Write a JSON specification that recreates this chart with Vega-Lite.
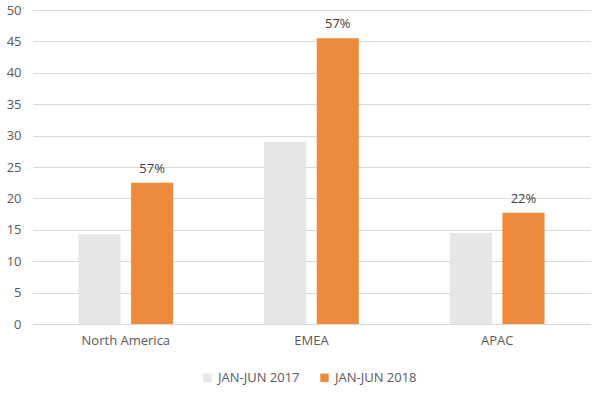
{
  "$schema": "https://vega.github.io/schema/vega-lite/v6.json",
  "width": 557,
  "height": 314,
  "autosize": {"type": "none"},
  "padding": {"left": 33, "top": 10, "right": 2, "bottom": 72},
  "background": "white",
  "config": {
    "view": {"stroke": null},
    "font": "Open Sans",
    "axis": {"labelFont": "Open Sans", "labelColor": "#595959", "labelFontSize": 13}
  },
  "data": {
    "values": [
      {"region": "North America", "period": "JAN-JUN 2017", "value": 14.3, "label": ""},
      {"region": "North America", "period": "JAN-JUN 2018", "value": 22.5, "label": "57%"},
      {"region": "EMEA", "period": "JAN-JUN 2017", "value": 29.0, "label": ""},
      {"region": "EMEA", "period": "JAN-JUN 2018", "value": 45.5, "label": "57%"},
      {"region": "APAC", "period": "JAN-JUN 2017", "value": 14.5, "label": ""},
      {"region": "APAC", "period": "JAN-JUN 2018", "value": 17.7, "label": "22%"}
    ]
  },
  "encoding": {
    "x": {
      "field": "region", "type": "nominal", "sort": null,
      "scale": {"paddingInner": 0.49, "paddingOuter": 0.245},
      "axis": {"title": null, "labelAngle": 0, "ticks": false, "domain": true, "domainColor": "#d9d9d9", "labelPadding": 10}
    },
    "xOffset": {"field": "period", "type": "nominal", "scale": {"paddingInner": 0.2, "paddingOuter": 0}},
    "y": {
      "field": "value", "type": "quantitative",
      "scale": {"domain": [0, 50], "nice": false},
      "axis": {"title": null, "values": [0,5,10,15,20,25,30,35,40,45,50], "labelOverlap": false, "ticks": false, "domain": false, "gridColor": "#d9d9d9", "labelPadding": 12}
    }
  },
  "layer": [
    {
      "mark": {"type": "bar"},
      "encoding": {
        "color": {
          "field": "period", "type": "nominal",
          "scale": {"domain": ["JAN-JUN 2017", "JAN-JUN 2018"], "range": ["#e7e6e6", "#ee8a3c"]},
          "legend": {
            "title": null, "orient": "none", "direction": "horizontal",
            "legendX": 168, "legendY": 361,
            "symbolType": "square", "symbolSize": 70, "symbolStrokeWidth": 0,
            "labelFontSize": 13, "labelColor": "#595959", "labelFont": "Open Sans",
            "columnPadding": 18
          }
        }
      }
    },
    {
      "mark": {"type": "text", "baseline": "bottom", "dy": -7, "fontSize": 13, "color": "#404040"},
      "encoding": {"text": {"field": "label"}}
    }
  ]
}
